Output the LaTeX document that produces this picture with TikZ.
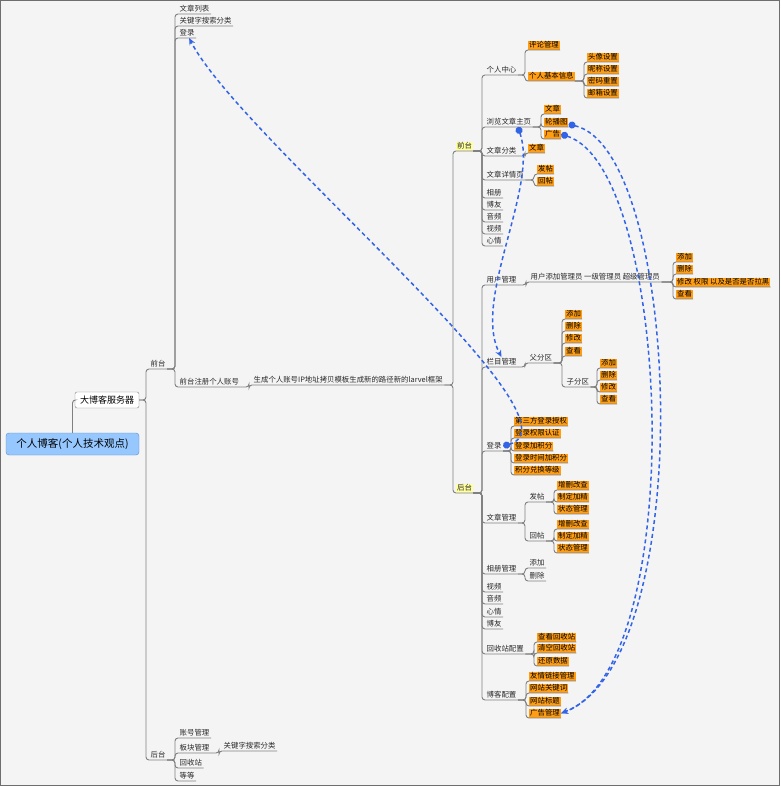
\documentclass[tikz,border=0pt]{standalone}
\usepackage{fontspec}
\newfontfamily\cjk{Noto Sans CJK SC}
\usepackage{tikz}
\usetikzlibrary{arrows.meta, positioning}
\definecolor{BgGray}{RGB}{244, 244, 244}
\definecolor{FrameGray}{RGB}{110, 110, 110}
\definecolor{WireGray}{RGB}{128, 128, 128}
\definecolor{TextGray}{RGB}{40, 40, 40}
\definecolor{TagOrange}{RGB}{255, 158, 20}
\definecolor{HiYellow}{RGB}{255, 255, 160}
\definecolor{RootBlue}{RGB}{150, 200, 255}
\definecolor{RootEdge}{RGB}{90, 140, 200}
\definecolor{RelBlue}{RGB}{50, 100, 230}
% elbow from a parent anchor to the underline of a child
\newcommand{\branch}[2]{\draw[wire] (#1) -| ([xshift=-3pt]#2.south west) -- (#2.south east);}

\begin{document}
\begin{tikzpicture}[x=1pt, y=-1pt,
    every node/.style={font=\cjk\fontsize{7.4}{8}\selectfont, text=TextGray},
    topic/.style={anchor=south west, inner xsep=1.5pt, inner ysep=1pt, text height=6.2pt, text depth=1.3pt},
    tagbox/.style={topic, fill=TagOrange, inner xsep=1pt, inner ysep=0.8pt, text=black},
    hilite/.style={topic, fill=HiYellow, inner xsep=1pt, inner ysep=0.8pt},
    rootbox/.style={draw=RootEdge, fill=RootBlue, rounded corners=3pt, minimum width=133pt, minimum height=22pt, font=\cjk\fontsize{10.5}{12}\selectfont, text=black},
    srvbox/.style={draw=WireGray, fill=white, rounded corners=2pt, minimum width=64pt, minimum height=16pt, font=\cjk\fontsize{9}{11}\selectfont, text=black},
    wire/.style={draw=WireGray, line width=0.9pt, rounded corners=3pt},
    rel/.style={draw=RelBlue, line width=1.5pt, dash pattern=on 4pt off 3pt, {Circle[length=7pt]}-{Stealth[length=7pt, width=6pt]}}]
    \useasboundingbox (0,0) rectangle (780,786);
    \draw[FrameGray, fill=BgGray, line width=1.2pt] (0.6,0.6) rectangle (779.4,785.4);

    % Root and server
    \node[rootbox] (root) at (72.5,444) {个人博客(个人技术观点)};
    \node[srvbox] (srv) at (107,400) {大博客服务器};
    \draw[wire] (root.north) |- (srv.west);

    % Front and back of the server
    \node[topic] (front) at (149,369) {前台};
    \node[topic] (back) at (149,760) {后台};
    \branch{srv.east}{front}
    \branch{srv.east}{back}

    % Front: list, search, login, register
    \node[topic] (artList) at (178,14) {文章列表};
    \node[topic] (kwSearch) at (178,26) {关键字搜索分类};
    \node[topic] (login) at (178,38) {登录};
    \node[topic] (regAcc) at (178,387) {前台注册个人账号};
    \branch{front.south east}{artList}
    \branch{front.south east}{kwSearch}
    \branch{front.south east}{login}
    \branch{front.south east}{regAcc}
    \node[topic] (genPath) at (252,385) {生成个人账号IP地址拷贝模板生成新的路径新的larvel框架};
    \branch{regAcc.south east}{genPath}

    % Blog front and back
    \node[hilite] (fe) at (456,151) {前台};
    \node[hilite] (be) at (456,493) {后台};
    \branch{genPath.south east}{fe}
    \branch{genPath.south east}{be}

    % Blog front
    \node[topic] (pc) at (485,75) {个人中心};
    \node[topic] (browse) at (485,127) {浏览文章主页};
    \node[topic] (cat) at (485,156) {文章分类};
    \node[topic] (detail) at (485,180) {文章详情页};
    \node[topic] (album) at (485,198) {相册};
    \node[topic] (friend) at (485,210) {博友};
    \node[topic] (audio) at (485,222) {音频};
    \node[topic] (video) at (485,234) {视频};
    \node[topic] (mood) at (485,246) {心情};
    \branch{fe.south east}{pc}
    \branch{fe.south east}{browse}
    \branch{fe.south east}{cat}
    \branch{fe.south east}{detail}
    \branch{fe.south east}{album}
    \branch{fe.south east}{friend}
    \branch{fe.south east}{audio}
    \branch{fe.south east}{video}
    \branch{fe.south east}{mood}

    % Personal centre
    \node[tagbox] (comment) at (528,50) {评论管理};
    \node[tagbox] (profile) at (528,81) {个人基本信息};
    \branch{pc.south east}{comment}
    \branch{pc.south east}{profile}
    \node[tagbox] (avatar) at (587,62) {头像设置};
    \node[tagbox] (nick) at (587,74) {昵称设置};
    \node[tagbox] (pwd) at (587,86) {密码重置};
    \node[tagbox] (mail) at (587,98) {邮箱设置};
    \branch{profile.south east}{avatar}
    \branch{profile.south east}{nick}
    \branch{profile.south east}{pwd}
    \branch{profile.south east}{mail}

    % Home page, categories, details
    \node[tagbox] (bArt) at (544,114) {文章};
    \node[tagbox] (slide) at (544,127) {轮播图};
    \node[tagbox] (ad) at (544,139) {广告};
    \branch{browse.south east}{bArt}
    \branch{browse.south east}{slide}
    \branch{browse.south east}{ad}
    \node[tagbox] (catArt) at (528,153) {文章};
    \branch{cat.south east}{catArt}
    \node[tagbox] (post) at (537,174) {发帖};
    \node[tagbox] (reply) at (537,186) {回帖};
    \branch{detail.south east}{post}
    \branch{detail.south east}{reply}

    % Blog back
    \node[topic] (user) at (485,285) {用户管理};
    \node[topic] (column) at (485,367) {栏目管理};
    \node[topic] (blogin) at (485,451) {登录};
    \node[topic] (article) at (485,523) {文章管理};
    \node[topic] (albumMgr) at (485,574) {相册管理};
    \node[topic] (bVideo) at (485,592) {视频};
    \node[topic] (bAudio) at (485,604) {音频};
    \node[topic] (bMood) at (485,617) {心情};
    \node[topic] (bFriend) at (485,629) {博友};
    \node[topic] (recycle) at (485,654) {回收站配置};
    \node[topic] (config) at (485,700) {博客配置};
    \branch{be.south east}{user}
    \branch{be.south east}{column}
    \branch{be.south east}{blogin}
    \branch{be.south east}{article}
    \branch{be.south east}{albumMgr}
    \branch{be.south east}{bVideo}
    \branch{be.south east}{bAudio}
    \branch{be.south east}{bMood}
    \branch{be.south east}{bFriend}
    \branch{be.south east}{recycle}
    \branch{be.south east}{config}

    % Users
    \node[topic] (admin) at (529,282) {用户添加管理员 一级管理员 超级管理员};
    \branch{user.south east}{admin}
    \node[tagbox] (uAdd) at (676,262) {添加};
    \node[tagbox] (uDel) at (676,274) {删除};
    \node[tagbox] (uEdit) at (676,287) {修改 权限 以及是否是否拉黑};
    \node[tagbox] (uView) at (676,299) {查看};
    \branch{admin.south east}{uAdd}
    \branch{admin.south east}{uDel}
    \branch{admin.south east}{uEdit}
    \branch{admin.south east}{uView}

    % Columns
    \node[topic] (parent) at (528,363) {父分区};
    \branch{column.south east}{parent}
    \node[tagbox] (pAdd) at (565,319) {添加};
    \node[tagbox] (pDel) at (565,331) {删除};
    \node[tagbox] (pEdit) at (565,343) {修改};
    \node[tagbox] (pView) at (565,356) {查看};
    \node[topic] (sub) at (565,387) {子分区};
    \branch{parent.south east}{pAdd}
    \branch{parent.south east}{pDel}
    \branch{parent.south east}{pEdit}
    \branch{parent.south east}{pView}
    \branch{parent.south east}{sub}
    \node[tagbox] (sAdd) at (600,368) {添加};
    \node[tagbox] (sDel) at (600,380) {删除};
    \node[tagbox] (sEdit) at (600,392) {修改};
    \node[tagbox] (sView) at (600,404) {查看};
    \branch{sub.south east}{sAdd}
    \branch{sub.south east}{sDel}
    \branch{sub.south east}{sEdit}
    \branch{sub.south east}{sView}

    % Login
    \node[tagbox] (third) at (514,426) {第三方登录授权};
    \node[tagbox] (auth) at (514,438) {登录权限认证};
    \node[tagbox] (pts) at (514,451) {登录加积分};
    \node[tagbox] (timePts) at (514,463) {登录时间加积分};
    \node[tagbox] (exch) at (514,475) {积分兑换等级};
    \branch{blogin.south east}{third}
    \branch{blogin.south east}{auth}
    \branch{blogin.south east}{pts}
    \branch{blogin.south east}{timePts}
    \branch{blogin.south east}{exch}

    % Articles
    \node[topic] (aPost) at (528,502) {发帖};
    \node[topic] (aReply) at (528,541) {回帖};
    \branch{article.south east}{aPost}
    \branch{article.south east}{aReply}
    \node[tagbox] (apCrud) at (557,490) {增删改查};
    \node[tagbox] (apPick) at (557,502) {制定加精};
    \node[tagbox] (apState) at (557,514) {状态管理};
    \branch{aPost.south east}{apCrud}
    \branch{aPost.south east}{apPick}
    \branch{aPost.south east}{apState}
    \node[tagbox] (arCrud) at (557,529) {增删改查};
    \node[tagbox] (arPick) at (557,541) {制定加精};
    \node[tagbox] (arState) at (557,553) {状态管理};
    \branch{aReply.south east}{arCrud}
    \branch{aReply.south east}{arPick}
    \branch{aReply.south east}{arState}

    % Albums
    \node[topic] (alAdd) at (528,568) {添加};
    \node[topic] (alDel) at (528,581) {删除};
    \branch{albumMgr.south east}{alAdd}
    \branch{albumMgr.south east}{alDel}

    % Recycle bin
    \node[tagbox] (rView) at (537,642) {查看回收站};
    \node[tagbox] (rClear) at (537,653) {清空回收站};
    \node[tagbox] (rRestore) at (537,666) {还原数据};
    \branch{recycle.south east}{rView}
    \branch{recycle.south east}{rClear}
    \branch{recycle.south east}{rRestore}

    % Blog settings
    \node[tagbox] (links) at (529,681) {友情链接管理};
    \node[tagbox] (keywords) at (529,693) {网站关键词};
    \node[tagbox] (title) at (529,706) {网站标题};
    \node[tagbox] (adMgr) at (529,718) {广告管理};
    \branch{config.south east}{links}
    \branch{config.south east}{keywords}
    \branch{config.south east}{title}
    \branch{config.south east}{adMgr}

    % Server back
    \node[topic] (account) at (178,738) {账号管理};
    \node[topic] (board) at (178,753) {板块管理};
    \node[topic] (bin) at (178,768) {回收站};
    \node[topic] (etc) at (178,781) {等等};
    \branch{back.south east}{account}
    \branch{back.south east}{board}
    \branch{back.south east}{bin}
    \branch{back.south east}{etc}
    \node[topic] (boardKw) at (222,751) {关键字搜索分类};
    \branch{board.south east}{boardKw}

    % Relations
    \draw[rel] ([xshift=9pt]browse.south) .. controls +(21,61) and +(-30,-57) .. (column.north);
    \draw[rel] (blogin.east) .. controls +(88,-25) and +(52,101) .. ([xshift=2pt]login.south);
    \draw[rel] ([yshift=-2pt]slide.east) .. controls +(113,26) and +(139,-53) .. (adMgr.east);
    \draw[rel] (ad.east) .. controls +(110,35) and +(129,-48) .. (adMgr.east);
\end{tikzpicture}
\end{document}
